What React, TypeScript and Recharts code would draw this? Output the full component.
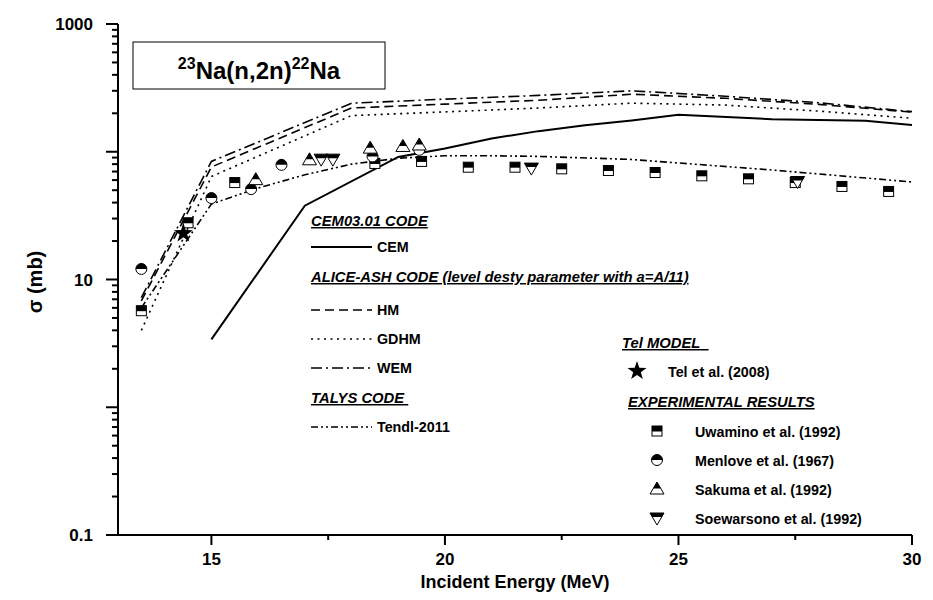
import { ComposedChart, Line, Scatter, XAxis, YAxis } from 'recharts';

const FONT = '"Liberation Sans", Arial, sans-serif';

// ALICE-ASH (a = A/11) curves
const aliceEnergy = [13.5, 15, 18, 20, 22, 24, 26, 28, 30];
const hmSigma = [6.8, 76, 220, 236, 253, 282, 262, 235, 204];
const gdhmSigma = [4.0, 64, 192, 205, 220, 240, 232, 208, 183];
const wemSigma = [7.2, 84, 240, 258, 276, 300, 272, 242, 206];

// CEM03.01
const cemEnergy = [15, 17, 19, 20, 21, 22, 23, 24, 25, 27, 29, 30];
const cemSigma = [3.4, 37.8, 91, 106, 127, 145, 161, 176, 195, 180, 175, 162];

// TALYS / Tendl-2011
const tendlEnergy = [13.5, 15, 16, 17, 18, 19, 20, 21, 22, 24, 27, 30];
const tendlSigma = [6.0, 39, 52, 66, 80, 89, 93, 93, 92, 87, 72, 58];

// experimental points
const uwaminoEnergy = [13.5, 14.5, 15.5, 18.5, 19.5, 20.5, 21.5, 22.5, 23.5, 24.5, 25.5, 26.5, 27.5, 28.5, 29.5];
const uwaminoSigma = [5.7, 27.8, 57.4, 81, 84, 75.7, 75.7, 73.5, 71.3, 68.8, 64.8, 61.4, 57.4, 53.5, 48.9];
const menloveEnergy = [13.5, 15.0, 15.85, 16.5, 18.45, 19.45];
const menloveSigma = [12.1, 43.4, 51, 79, 92, 103.5];
const sakumaEnergy = [15.95, 17.1, 18.4, 19.1, 19.45];
const sakumaSigma = [60.5, 86.5, 106.7, 110, 113];
const soewarsonoEnergy = [17.35, 17.6, 21.85, 27.55];
const soewarsonoSigma = [87.5, 87.5, 74.5, 58.5];
const telEnergy = [14.4];
const telSigma = [23];

const xTicks = [15, 17.5, 20, 22.5, 25, 27.5, 30];
const xLabels = [15, 20, 25, 30];
const yDecades = [0.1, 1, 10, 100];
const yLabels = ['0.1', '10', '1000'];

const yTicks = [...yDecades.flatMap((d) => [1, 2, 3, 4, 5, 6, 7, 8, 9].map((m) => +(d * m).toPrecision(3))), 1000];

const pts = (xs: number[], ys: number[]) => xs.map((x, i) => ({ x, y: ys[i] }));

const isDecade = (v: number) => Math.abs(Math.log10(v) - Math.round(Math.log10(v))) < 1e-6;

const BottomTick = ({ x, y, payload }: any) => {
  const major = xLabels.includes(payload.value);
  return (
    <g>
      <line x1={x} y1={y} x2={x} y2={y + (major ? 10 : 5)} stroke="#000" strokeWidth={2} />
      {major && (
        <text x={x} y={y + 30} textAnchor="middle" fontFamily={FONT} fontWeight="bold" fontSize={17} fill="#000">
          {payload.value}
        </text>
      )}
    </g>
  );
};

const TopTick = ({ x, y, payload }: any) => {
  const major = xLabels.includes(payload.value);
  return <line x1={x} y1={y} x2={x} y2={y + (major ? 10 : 5)} stroke="#000" strokeWidth={2} />;
};

const LeftTick = ({ x, y, payload }: any) => {
  const v = payload.value;
  const major = isDecade(v);
  const label = yLabels.find((l) => Math.abs(Number(l) - v) < 1e-9);
  return (
    <g>
      <line x1={x} y1={y} x2={x - (major ? 12 : 6)} y2={y} stroke="#000" strokeWidth={2} />
      {label && (
        <text x={x - 25} y={y} dy={6} textAnchor="end" fontFamily={FONT} fontWeight="bold" fontSize={17} fill="#000">
          {label}
        </text>
      )}
    </g>
  );
};

const RightTick = ({ x, y, payload }: any) => {
  const major = isDecade(payload.value);
  return <line x1={x} y1={y} x2={x - (major ? 10 : 5)} y2={y} stroke="#000" strokeWidth={2} />;
};

const SquareMark = ({ cx, cy }: any) => (
  <g>
    <rect x={cx - 5} y={cy - 5} width={10} height={10} fill="#fff" stroke="#000" strokeWidth={1} />
    <rect x={cx - 5} y={cy - 5} width={10} height={5.5} fill="#000" />
  </g>
);

const CircleMark = ({ cx, cy }: any) => (
  <g>
    <circle cx={cx} cy={cy} r={5.5} fill="#fff" stroke="#000" strokeWidth={1} />
    <path d={`M${cx - 5.5},${cy} A5.5,5.5 0 0 1 ${cx + 5.5},${cy} Z`} fill="#000" />
  </g>
);

const UpTriangle = ({ cx, cy }: any) => (
  <g>
    <polygon points={`${cx},${cy - 7} ${cx + 7},${cy + 5} ${cx - 7},${cy + 5}`} fill="#fff" stroke="#000" strokeWidth={1} />
    <polygon points={`${cx},${cy - 7} ${cx + 3.8},${cy - 0.5} ${cx - 3.8},${cy - 0.5}`} fill="#000" />
  </g>
);

const DownTriangle = ({ cx, cy }: any) => (
  <g>
    <polygon points={`${cx - 7},${cy - 5} ${cx + 7},${cy - 5} ${cx},${cy + 7}`} fill="#fff" stroke="#000" strokeWidth={1} />
    <polygon points={`${cx - 7},${cy - 5} ${cx + 7},${cy - 5} ${cx + 4.7},${cy - 1} ${cx - 4.7},${cy - 1}`} fill="#000" />
  </g>
);

const starPath = (cx: number, cy: number, R: number, r: number) => {
  let d = '';
  for (let i = 0; i < 10; i++) {
    const a = -Math.PI / 2 + (i * Math.PI) / 5;
    const rad = i % 2 ? r : R;
    d += `${i ? 'L' : 'M'}${cx + rad * Math.cos(a)},${cy + rad * Math.sin(a)}`;
  }
  return d + 'Z';
};

const StarMark = ({ cx, cy }: any) => <path d={starPath(cx, cy, 10, 4)} fill="#000" />;

const txt = { fontFamily: FONT, fontWeight: 'bold' as const, fontSize: 14.3, fill: '#000' };
const head = { ...txt, fontSize: 14.8, fontStyle: 'italic' as const, textDecoration: 'underline' };

const LegendLine = ({ y, label, dash, w = 1.6 }: { y: number; label: string; dash?: string; w?: number }) => (
  <g>
    <line x1={311} y1={y} x2={372} y2={y} stroke="#000" strokeWidth={w} strokeDasharray={dash} />
    <text x={377} y={y + 5} {...txt}>{label}</text>
  </g>
);

const Overlay = () => (
  <svg width={933} height={600} style={{ position: 'absolute', left: 0, top: 0, pointerEvents: 'none' }}>
    <rect x={133} y={42} width={252} height={47} fill="#fff" stroke="#000" strokeWidth={1} />
    <text x={259} y={79} textAnchor="middle" fontFamily={FONT} fontWeight="bold" fill="#000">
      <tspan fontSize={16} dy={-10}>23</tspan>
      <tspan fontSize={24} dy={10}>Na(n,2n)</tspan>
      <tspan fontSize={16} dy={-10}>22</tspan>
      <tspan fontSize={24} dy={10}>Na</tspan>
    </text>

    <text x={311} y={226} {...head}>CEM03.01 CODE</text>
    <LegendLine y={247} label="CEM" w={2} />
    <text x={311} y={282} {...head}>ALICE-ASH CODE (level desty parameter with a=A/11)</text>
    <LegendLine y={310} label="HM" dash="9 5" />
    <LegendLine y={339} label="GDHM" dash="2 4.5" />
    <LegendLine y={368} label="WEM" dash="11 4 2 4" />
    <text x={311} y={403} {...head}>{'TALYS CODE\u00a0'}</text>
    <LegendLine y={427} label="Tendl-2011" dash="7 3 2 3 2 3" />

    <text x={622} y={348} {...head}>{'Tel MODEL\u00a0\u00a0'}</text>
    <StarMark cx={637} cy={371} />
    <text x={668} y={377} {...txt}>Tel et al. (2008)</text>
    <text x={628} y={407} {...head}>EXPERIMENTAL RESULTS</text>
    <SquareMark cx={657} cy={431} />
    <text x={695} y={437} {...txt}>Uwamino et al. (1992)</text>
    <CircleMark cx={657} cy={460} />
    <text x={695} y={466} {...txt}>Menlove et al. (1967)</text>
    <UpTriangle cx={657} cy={489} />
    <text x={695} y={495} {...txt}>Sakuma et al. (1992)</text>
    <DownTriangle cx={657} cy={518} />
    <text x={695} y={524} {...txt}>Soewarsono et al. (1992)</text>

    <text x={0} y={0} transform="translate(42,282) rotate(-90)" textAnchor="middle" fontFamily={FONT} fontWeight="bold" fontSize={20} fill="#000">
      σ (mb)
    </text>
    <text x={515} y={588} textAnchor="middle" fontFamily={FONT} fontWeight="bold" fontSize={18} fill="#000">
      Incident Energy (MeV)
    </text>
  </svg>
);

export default function App() {
  const axisLine = { stroke: '#000', strokeWidth: 2 };
  return (
    <div style={{ position: 'absolute', left: 0, top: 0, width: 933, height: 600, background: '#fff' }}>
      <ComposedChart width={933} height={600} margin={{ top: 24, right: 21, bottom: 35, left: 58 }}>
        <XAxis dataKey="x" type="number" domain={[13, 30]} ticks={xTicks} interval={0} allowDataOverflow
          tickSize={0} tickMargin={0} tickLine={false} axisLine={axisLine} height={30} tick={(p: any) => <BottomTick {...p} />} />
        <XAxis xAxisId="top" orientation="top" dataKey="x" type="number" domain={[13, 30]} ticks={xTicks} interval={0} allowDataOverflow
          tickSize={0} tickMargin={0} tickLine={false} axisLine={axisLine} height={0} tick={(p: any) => <TopTick {...p} />} />
        <YAxis dataKey="y" type="number" scale="log" domain={[0.1, 1000]} ticks={yTicks} interval={0} allowDataOverflow
          tickSize={0} tickMargin={0} tickLine={false} axisLine={axisLine} width={60} tick={(p: any) => <LeftTick {...p} />} />
        <YAxis yAxisId="right" orientation="right" dataKey="y" type="number" scale="log" domain={[0.1, 1000]} ticks={yTicks} interval={0} allowDataOverflow
          tickSize={0} tickMargin={0} tickLine={false} axisLine={axisLine} width={0} tick={(p: any) => <RightTick {...p} />} />

        <Line data={pts(cemEnergy, cemSigma)} dataKey="y" type="linear" stroke="#000" strokeWidth={2} dot={false} isAnimationActive={false} />
        <Line data={pts(aliceEnergy, hmSigma)} dataKey="y" type="linear" stroke="#000" strokeWidth={1.6} strokeDasharray="9 5" dot={false} isAnimationActive={false} />
        <Line data={pts(aliceEnergy, gdhmSigma)} dataKey="y" type="linear" stroke="#000" strokeWidth={1.6} strokeDasharray="2 4.5" dot={false} isAnimationActive={false} />
        <Line data={pts(aliceEnergy, wemSigma)} dataKey="y" type="linear" stroke="#000" strokeWidth={1.6} strokeDasharray="11 4 2 4" dot={false} isAnimationActive={false} />
        <Line data={pts(tendlEnergy, tendlSigma)} dataKey="y" type="linear" stroke="#000" strokeWidth={1.6} strokeDasharray="7 3 2 3 2 3" dot={false} isAnimationActive={false} />

        <Scatter data={pts(uwaminoEnergy, uwaminoSigma)} shape={(p: any) => <SquareMark cx={p.cx} cy={p.cy} />} isAnimationActive={false} />
        <Scatter data={pts(menloveEnergy, menloveSigma)} shape={(p: any) => <CircleMark cx={p.cx} cy={p.cy} />} isAnimationActive={false} />
        <Scatter data={pts(sakumaEnergy, sakumaSigma)} shape={(p: any) => <UpTriangle cx={p.cx} cy={p.cy} />} isAnimationActive={false} />
        <Scatter data={pts(soewarsonoEnergy, soewarsonoSigma)} shape={(p: any) => <DownTriangle cx={p.cx} cy={p.cy} />} isAnimationActive={false} />
        <Scatter data={pts(telEnergy, telSigma)} shape={(p: any) => <StarMark cx={p.cx} cy={p.cy} />} isAnimationActive={false} />
      </ComposedChart>
      <Overlay />
    </div>
  );
}
